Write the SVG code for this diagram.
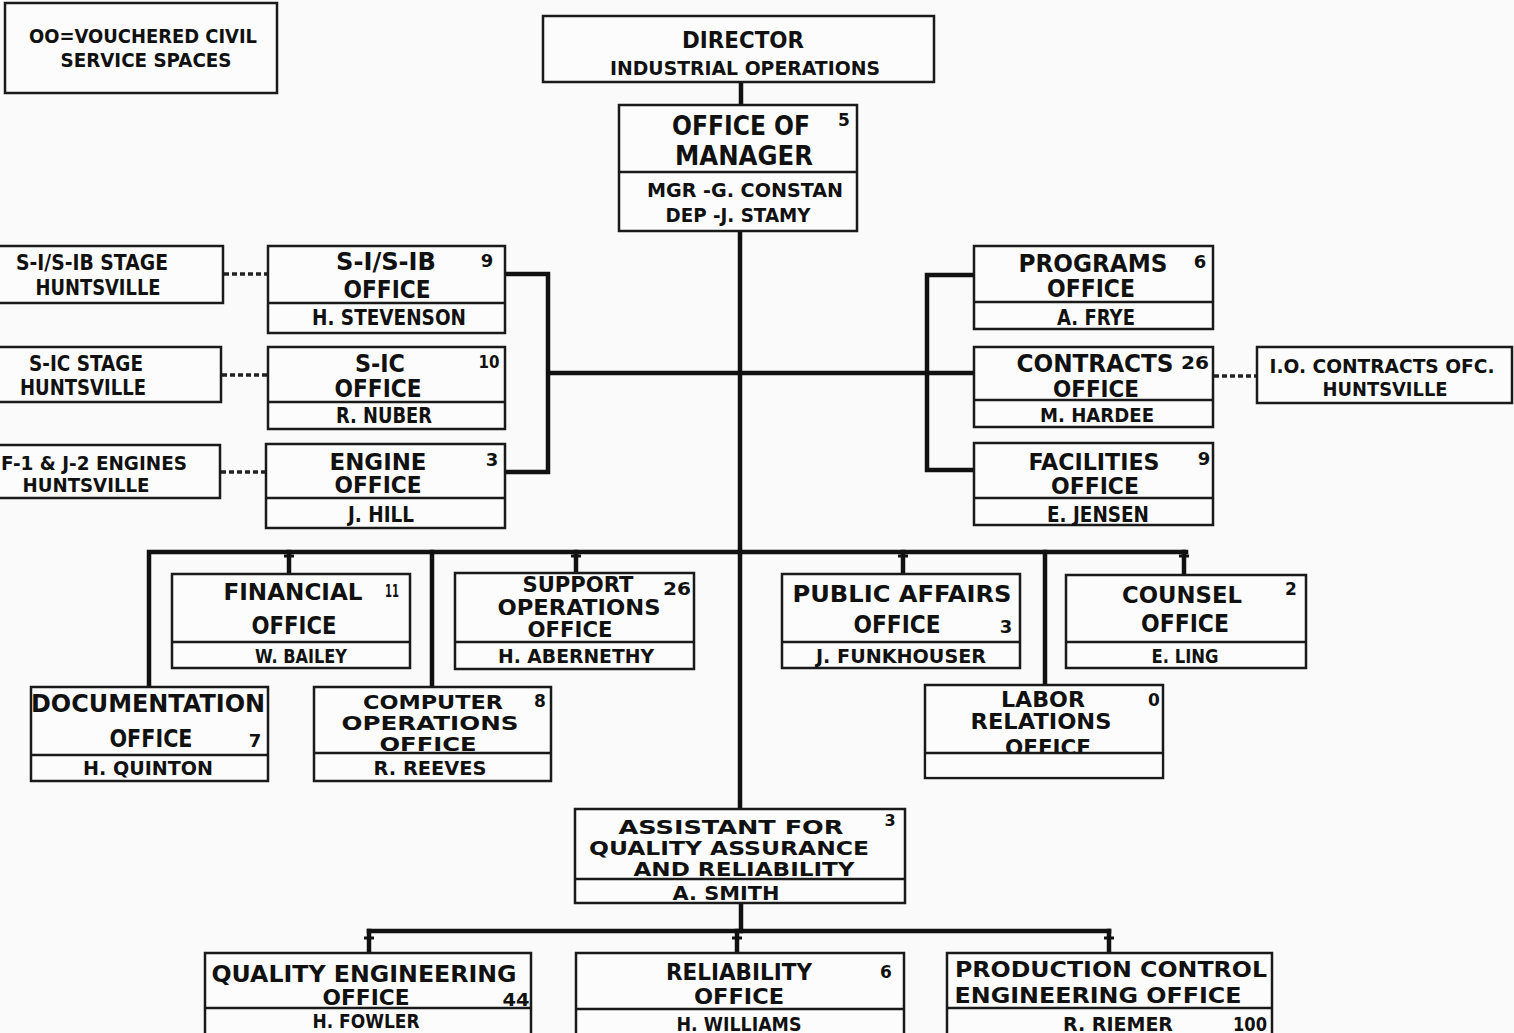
<svg xmlns="http://www.w3.org/2000/svg" width="1514" height="1033" viewBox="0 0 1514 1033">
<style>
.bg{fill:#fafafa}
.box{fill:#fcfcfc;stroke:#1a1a1a;stroke-width:2.5}
.div{stroke:#1a1a1a;stroke-width:2.5;fill:none}
.con{stroke:#111;stroke-width:4.5;fill:none;stroke-linecap:square}
.thin{stroke:#111;stroke-width:3;fill:none}
.dot{stroke:#222;stroke-width:3.5;fill:none;stroke-dasharray:5 3}
text{font-family:"DejaVu Sans","Liberation Sans",sans-serif;font-weight:bold;fill:#111;text-anchor:middle}
.s19{font-size:19px}.s20{font-size:20px}.s21{font-size:21px}.s22{font-size:22px}.s23{font-size:23px}.s24{font-size:24px}.s26{font-size:26px}
.num{font-size:17px}
</style>
<rect class="bg" x="0" y="0" width="1514" height="1033"/>

<g id="connectors">
  <line class="con" x1="741" y1="82" x2="741" y2="105"/>
  <line class="con" x1="740" y1="231" x2="740" y2="809"/>
  <path class="con" d="M505,274 H548 V472 H505 M548,373 H927 M974,275 H927 V470 H974 M927,373 H974"/>
  <line class="dot" x1="224" y1="274" x2="267" y2="274"/>
  <line class="dot" x1="222" y1="375" x2="267" y2="375"/>
  <line class="dot" x1="221" y1="472" x2="265" y2="472"/>
  <line class="dot" x1="1214" y1="376" x2="1256" y2="376"/>
  <path class="con" d="M149,687 V552 H1186"/>
  <line class="con" x1="432" y1="552" x2="432" y2="687"/>
  <line class="con" x1="1045" y1="552" x2="1045" y2="685"/>
  <line class="con" x1="289" y1="552" x2="289" y2="574"/>
  <line class="con" x1="576" y1="552" x2="576" y2="573"/>
  <line class="con" x1="903" y1="552" x2="903" y2="574"/>
  <line class="con" x1="1184" y1="552" x2="1184" y2="575"/>
  <path class="thin" d="M284,556 H294 M571,556 H581 M898,556 H908 M1179,556 H1189"/>
  <line class="con" x1="741" y1="903" x2="741" y2="931"/>
  <line class="con" x1="369" y1="931" x2="1109" y2="931"/>
  <line class="con" x1="369" y1="931" x2="369" y2="953"/>
  <line class="con" x1="737" y1="931" x2="737" y2="953"/>
  <line class="con" x1="1109" y1="931" x2="1109" y2="953"/>
  <path class="thin" d="M364,938 H374 M732,938 H742 M1104,938 H1114"/>
</g>

<g id="legend">
  <rect class="box" x="5" y="3" width="272" height="90"/>
  <text class="s20" x="143" y="43" textLength="228" lengthAdjust="spacingAndGlyphs">OO=VOUCHERED CIVIL</text>
  <text class="s20" x="146" y="67" textLength="171" lengthAdjust="spacingAndGlyphs">SERVICE SPACES</text>
</g>

<g id="director">
  <rect class="box" x="543" y="16" width="391" height="66"/>
  <text class="s23" x="743" y="48" textLength="122" lengthAdjust="spacingAndGlyphs">DIRECTOR</text>
  <text class="s20" x="745" y="75" textLength="270" lengthAdjust="spacingAndGlyphs">INDUSTRIAL OPERATIONS</text>
</g>

<g id="manager">
  <rect class="box" x="619" y="105" width="238" height="126"/>
  <line class="div" x1="619" y1="172" x2="857" y2="172"/>
  <text class="s26" x="741" y="135" textLength="138" lengthAdjust="spacingAndGlyphs">OFFICE OF</text>
  <text class="s26" x="744" y="165" textLength="138" lengthAdjust="spacingAndGlyphs">MANAGER</text>
  <text class="num" x="844" y="126">5</text>
  <text class="s20" x="745" y="197" textLength="196" lengthAdjust="spacingAndGlyphs">MGR -G. CONSTAN</text>
  <text class="s20" x="738" y="222" textLength="145" lengthAdjust="spacingAndGlyphs">DEP -J. STAMY</text>
</g>

<g id="s1-stage">
  <rect class="box" x="-3" y="246" width="226" height="57"/>
  <text class="s21" x="92" y="270" textLength="152" lengthAdjust="spacingAndGlyphs">S-I/S-IB STAGE</text>
  <text class="s21" x="98" y="295" textLength="125" lengthAdjust="spacingAndGlyphs">HUNTSVILLE</text>
</g>

<g id="s1-office">
  <rect class="box" x="268" y="246" width="237" height="87"/>
  <line class="div" x1="268" y1="303" x2="505" y2="303"/>
  <text class="s24" x="386" y="270" textLength="100" lengthAdjust="spacingAndGlyphs">S-I/S-IB</text>
  <text class="num" x="487" y="267" style="font-size:18px">9</text>
  <text class="s24" x="387" y="298" textLength="87" lengthAdjust="spacingAndGlyphs">OFFICE</text>
  <text class="s21" x="389" y="325" textLength="154" lengthAdjust="spacingAndGlyphs">H. STEVENSON</text>
</g>

<g id="sic-stage">
  <rect class="box" x="-3" y="347" width="224" height="55"/>
  <text class="s21" x="86" y="371" textLength="114" lengthAdjust="spacingAndGlyphs">S-IC STAGE</text>
  <text class="s21" x="83" y="395" textLength="126" lengthAdjust="spacingAndGlyphs">HUNTSVILLE</text>
</g>

<g id="sic-office">
  <rect class="box" x="268" y="347" width="237" height="82"/>
  <line class="div" x1="268" y1="402" x2="505" y2="402"/>
  <text class="s24" x="380" y="372" textLength="50" lengthAdjust="spacingAndGlyphs">S-IC</text>
  <text class="num" x="489" y="368" textLength="21" lengthAdjust="spacingAndGlyphs">10</text>
  <text class="s24" x="378" y="397" textLength="87" lengthAdjust="spacingAndGlyphs">OFFICE</text>
  <text class="s21" x="384" y="423" textLength="96" lengthAdjust="spacingAndGlyphs">R. NUBER</text>
</g>

<g id="engines-stage">
  <rect class="box" x="-3" y="445" width="223" height="53"/>
  <text class="s20" x="94" y="470" textLength="186" lengthAdjust="spacingAndGlyphs">F-1 &amp; J-2 ENGINES</text>
  <text class="s20" x="86" y="492" textLength="127" lengthAdjust="spacingAndGlyphs">HUNTSVILLE</text>
</g>

<g id="engine-office">
  <rect class="box" x="266" y="444" width="239" height="84"/>
  <line class="div" x1="266" y1="498" x2="505" y2="498"/>
  <text class="s23" x="378" y="470" textLength="97" lengthAdjust="spacingAndGlyphs">ENGINE</text>
  <text class="num" x="492" y="466" style="font-size:18px">3</text>
  <text class="s23" x="378" y="493" textLength="87" lengthAdjust="spacingAndGlyphs">OFFICE</text>
  <text class="s21" x="381" y="522" textLength="66" lengthAdjust="spacingAndGlyphs">J. HILL</text>
</g>

<g id="programs">
  <rect class="box" x="974" y="246" width="239" height="83"/>
  <line class="div" x1="974" y1="302" x2="1213" y2="302"/>
  <text class="s24" x="1093" y="272" textLength="149" lengthAdjust="spacingAndGlyphs">PROGRAMS</text>
  <text class="num" x="1200" y="268" style="font-size:18px">6</text>
  <text class="s24" x="1091" y="297" textLength="88" lengthAdjust="spacingAndGlyphs">OFFICE</text>
  <text class="s21" x="1096" y="325" textLength="78" lengthAdjust="spacingAndGlyphs">A. FRYE</text>
</g>

<g id="contracts">
  <rect class="box" x="974" y="347" width="239" height="80"/>
  <line class="div" x1="974" y1="400" x2="1213" y2="400"/>
  <text class="s24" x="1095" y="372" textLength="157" lengthAdjust="spacingAndGlyphs">CONTRACTS</text>
  <text class="num" x="1195" y="369" style="font-size:18px" textLength="28" lengthAdjust="spacingAndGlyphs">26</text>
  <text class="s23" x="1096" y="397" textLength="86" lengthAdjust="spacingAndGlyphs">OFFICE</text>
  <text class="s20" x="1097" y="422" textLength="114" lengthAdjust="spacingAndGlyphs">M. HARDEE</text>
</g>

<g id="io-contracts">
  <rect class="box" x="1257" y="347" width="255" height="56"/>
  <text class="s19" x="1382" y="373" textLength="225" lengthAdjust="spacingAndGlyphs">I.O. CONTRACTS OFC.</text>
  <text class="s20" x="1385" y="396" textLength="125" lengthAdjust="spacingAndGlyphs">HUNTSVILLE</text>
</g>

<g id="facilities">
  <rect class="box" x="974" y="443" width="239" height="82"/>
  <line class="div" x1="974" y1="498" x2="1213" y2="498"/>
  <text class="s23" x="1094" y="470" textLength="131" lengthAdjust="spacingAndGlyphs">FACILITIES</text>
  <text class="num" x="1204" y="465" style="font-size:18px">9</text>
  <text class="s23" x="1095" y="494" textLength="88" lengthAdjust="spacingAndGlyphs">OFFICE</text>
  <text class="s21" x="1098" y="522" textLength="102" lengthAdjust="spacingAndGlyphs">E. JENSEN</text>
</g>

<g id="financial">
  <rect class="box" x="172" y="574" width="238" height="94"/>
  <line class="div" x1="172" y1="642" x2="410" y2="642"/>
  <text class="s23" x="293" y="600" textLength="139" lengthAdjust="spacingAndGlyphs">FINANCIAL</text>
  <text class="num" x="392" y="597" textLength="14" lengthAdjust="spacingAndGlyphs">11</text>
  <text class="s24" x="294" y="634" textLength="85" lengthAdjust="spacingAndGlyphs">OFFICE</text>
  <text class="s20" x="301" y="663" textLength="92" lengthAdjust="spacingAndGlyphs">W. BAILEY</text>
</g>

<g id="support">
  <rect class="box" x="455" y="573" width="239" height="96"/>
  <line class="div" x1="455" y1="642" x2="694" y2="642"/>
  <text class="s22" x="578" y="592" textLength="111" lengthAdjust="spacingAndGlyphs">SUPPORT</text>
  <text class="num" x="677" y="595" textLength="28" lengthAdjust="spacingAndGlyphs">26</text>
  <text class="s22" x="579" y="615" textLength="163" lengthAdjust="spacingAndGlyphs">OPERATIONS</text>
  <text class="s22" x="570" y="637" textLength="85" lengthAdjust="spacingAndGlyphs">OFFICE</text>
  <text class="s20" x="576" y="663" textLength="156" lengthAdjust="spacingAndGlyphs">H. ABERNETHY</text>
</g>

<g id="public-affairs">
  <rect class="box" x="782" y="574" width="238" height="94"/>
  <line class="div" x1="782" y1="642" x2="1020" y2="642"/>
  <text class="s23" x="902" y="602" textLength="219" lengthAdjust="spacingAndGlyphs">PUBLIC  AFFAIRS</text>
  <text class="s24" x="897" y="633" textLength="87" lengthAdjust="spacingAndGlyphs">OFFICE</text>
  <text class="num" x="1006" y="633" style="font-size:18px">3</text>
  <text class="s20" x="901" y="663" textLength="170" lengthAdjust="spacingAndGlyphs">J. FUNKHOUSER</text>
</g>

<g id="counsel">
  <rect class="box" x="1066" y="575" width="240" height="93"/>
  <line class="div" x1="1066" y1="642" x2="1306" y2="642"/>
  <text class="s23" x="1182" y="603" textLength="120" lengthAdjust="spacingAndGlyphs">COUNSEL</text>
  <text class="num" x="1291" y="595">2</text>
  <text class="s24" x="1185" y="632" textLength="88" lengthAdjust="spacingAndGlyphs">OFFICE</text>
  <text class="s20" x="1185" y="663" textLength="67" lengthAdjust="spacingAndGlyphs">E. LING</text>
</g>

<g id="documentation">
  <rect class="box" x="31" y="687" width="237" height="94"/>
  <line class="div" x1="31" y1="755" x2="268" y2="755"/>
  <text class="s24" x="148" y="712" textLength="234" lengthAdjust="spacingAndGlyphs">DOCUMENTATION</text>
  <text class="s24" x="151" y="747" textLength="83" lengthAdjust="spacingAndGlyphs">OFFICE</text>
  <text class="num" x="255" y="747" style="font-size:18px">7</text>
  <text class="s20" x="148" y="775" textLength="130" lengthAdjust="spacingAndGlyphs">H. QUINTON</text>
</g>

<g id="computer">
  <rect class="box" x="314" y="687" width="237" height="94"/>
  <line class="div" x1="314" y1="753" x2="551" y2="753"/>
  <text class="s19" x="433" y="709" textLength="140" lengthAdjust="spacingAndGlyphs">COMPUTER</text>
  <text class="num" x="540" y="707">8</text>
  <text class="s19" x="430" y="730" textLength="177" lengthAdjust="spacingAndGlyphs">OPERATIONS</text>
  <text class="s19" x="428" y="751" textLength="97" lengthAdjust="spacingAndGlyphs">OFFICE</text>
  <text class="s20" x="430" y="775" textLength="113" lengthAdjust="spacingAndGlyphs">R. REEVES</text>
</g>

<g id="labor">
  <rect class="box" x="925" y="685" width="238" height="93"/>
  <text class="s22" x="1043" y="707" textLength="84" lengthAdjust="spacingAndGlyphs">LABOR</text>
  <text class="num" x="1154" y="706">0</text>
  <text class="s22" x="1041" y="729" textLength="141" lengthAdjust="spacingAndGlyphs">RELATIONS</text>
  <text class="s22" x="1048" y="755" textLength="86" lengthAdjust="spacingAndGlyphs">OFFICE</text>
  <rect x="926.5" y="754" width="235" height="22.5" fill="#fcfcfc"/>
  <line class="div" x1="925" y1="753" x2="1163" y2="753"/>
</g>

<g id="assistant">
  <rect class="box" x="575" y="809" width="330" height="94"/>
  <line class="div" x1="575" y1="879" x2="905" y2="879"/>
  <text class="s19" x="731" y="834" textLength="225" lengthAdjust="spacingAndGlyphs">ASSISTANT   FOR</text>
  <text class="num" x="890" y="826" style="font-size:16px">3</text>
  <text class="s19" x="729" y="855" textLength="280" lengthAdjust="spacingAndGlyphs">QUALITY ASSURANCE</text>
  <text class="s19" x="744" y="876" textLength="221" lengthAdjust="spacingAndGlyphs">AND RELIABILITY</text>
  <text class="s20" x="726" y="900" textLength="107" lengthAdjust="spacingAndGlyphs">A. SMITH</text>
</g>

<g id="quality-engineering">
  <rect class="box" x="205" y="953" width="326" height="84"/>
  <line class="div" x1="205" y1="1008" x2="531" y2="1008"/>
  <text class="s23" x="364" y="982" textLength="305" lengthAdjust="spacingAndGlyphs">QUALITY ENGINEERING</text>
  <text class="s22" x="366" y="1005" textLength="87" lengthAdjust="spacingAndGlyphs">OFFICE</text>
  <text class="num" x="516" y="1006" textLength="27" lengthAdjust="spacingAndGlyphs">44</text>
  <text class="s20" x="366" y="1028" textLength="107" lengthAdjust="spacingAndGlyphs">H. FOWLER</text>
</g>

<g id="reliability">
  <rect class="box" x="576" y="953" width="328" height="84"/>
  <line class="div" x1="576" y1="1009" x2="904" y2="1009"/>
  <text class="s23" x="739" y="980" textLength="146" lengthAdjust="spacingAndGlyphs">RELIABILITY</text>
  <text class="num" x="886" y="978">6</text>
  <text class="s22" x="739" y="1004" textLength="90" lengthAdjust="spacingAndGlyphs">OFFICE</text>
  <text class="s20" x="739" y="1031" textLength="125" lengthAdjust="spacingAndGlyphs">H. WILLIAMS</text>
</g>

<g id="production-control">
  <rect class="box" x="947" y="953" width="325" height="84"/>
  <line class="div" x1="947" y1="1008" x2="1272" y2="1008"/>
  <text class="s22" x="1111" y="977" textLength="312" lengthAdjust="spacingAndGlyphs">PRODUCTION CONTROL</text>
  <text class="s22" x="1098" y="1003" textLength="287" lengthAdjust="spacingAndGlyphs">ENGINEERING  OFFICE</text>
  <text class="s20" x="1118" y="1031" textLength="110" lengthAdjust="spacingAndGlyphs">R. RIEMER</text>
  <text class="s20" x="1250" y="1031" textLength="34" lengthAdjust="spacingAndGlyphs">100</text>
</g>
</svg>
